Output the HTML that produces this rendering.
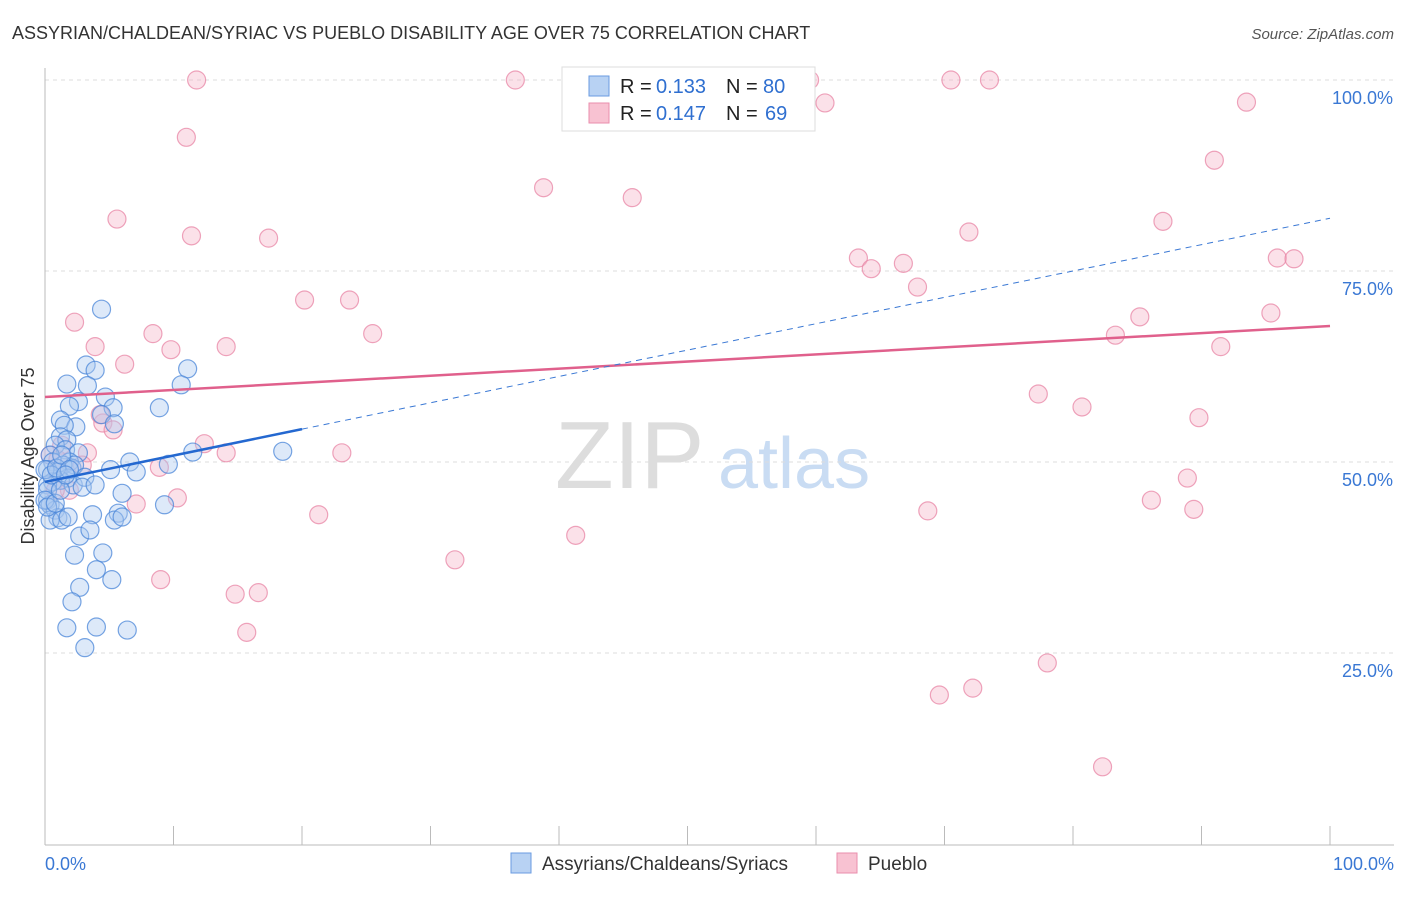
<!DOCTYPE html>
<html><head><meta charset="utf-8"><style>
body{margin:0;background:#fff;font-family:"Liberation Sans",sans-serif}
svg text{font-family:"Liberation Sans",sans-serif}
</style></head><body>
<svg width="1406" height="892" xmlns="http://www.w3.org/2000/svg">
<text x="12" y="39" font-size="18" fill="#333">ASSYRIAN/CHALDEAN/SYRIAC VS PUEBLO DISABILITY AGE OVER 75 CORRELATION CHART</text>
<text x="1394" y="39" font-size="15" fill="#555" text-anchor="end" font-style="italic">Source: ZipAtlas.com</text>
<g>
<text x="555" y="488" font-size="96" fill="#ddd" font-family="Liberation Serif">ZIP</text>
<text x="718" y="488" font-size="72" fill="#c9dcf3">atlas</text>
</g>
<g id="grid"></g>
<g id="axes"></g>
<g id="pts"></g>
<g id="trends"></g>
<g>
<rect x="562" y="67" width="253" height="64" fill="#fff" stroke="#ddd"/>
<rect x="589" y="76" width="20" height="20" fill="#b8d2f3" stroke="#6a9be0"/>
<rect x="589" y="103" width="20" height="20" fill="#f8c2d2" stroke="#ea8eac"/>
<text x="620" y="93" font-size="20" fill="#222">R =</text>
<text x="656" y="93" font-size="20" fill="#2f6fd0">0.133</text>
<text x="726" y="93" font-size="20" fill="#222">N =</text>
<text x="763" y="93" font-size="20" fill="#2f6fd0">80</text>
<text x="620" y="120" font-size="20" fill="#222">R =</text>
<text x="656" y="120" font-size="20" fill="#2f6fd0">0.147</text>
<text x="726" y="120" font-size="20" fill="#222">N =</text>
<text x="765" y="120" font-size="20" fill="#2f6fd0">69</text>
</g>
<g>
<rect x="511" y="853" width="20" height="20" fill="#b8d2f3" stroke="#6a9be0"/>
<text x="542" y="870" font-size="19" fill="#333">Assyrians/Chaldeans/Syriacs</text>
<rect x="837" y="853" width="20" height="20" fill="#f8c2d2" stroke="#ea8eac"/>
<text x="868" y="870" font-size="19" fill="#333">Pueblo</text>
</g>
<text transform="translate(34,456) rotate(-90)" font-size="18" fill="#333" text-anchor="middle">Disability Age Over 75</text>
<text x="45" y="870" font-size="18" fill="#3a78d4">0.0%</text>
<text x="1394" y="870" font-size="18" fill="#3a78d4" text-anchor="end">100.0%</text>
</svg>
<script>
const blueX=[4.4,3.2,3.9,1.7,3.3,11.1,10.6,4.7,2.6,1.9,8.9,5.3,4.4,1.2,2.4,1.5,5.4,1.2,1.7,0.8,1.6,2.6,0.4,0.6,1.9,2.1,1.4,2.3,6.6,5.1,7.1,9.6,11.5,18.5,0.2,1.0,1.8,1.2,0.6,0.2,2.2,3.1,2.9,6.0,0.2,0.4,0.8,1.0,0.4,1.3,3.7,1.8,5.7,5.4,6.0,9.3,2.7,3.5,2.3,4.5,4.0,5.2,2.7,2.1,1.7,4.0,6.4,3.1,0,0.2,0.5,0.9,1.3,1.9,0,0.2,0.8,1.2,1.6,3.9];
const blueY=[70.0,62.7,62.0,60.2,60.0,62.2,60.1,58.5,57.9,57.3,57.1,57.1,56.2,55.5,54.6,54.8,55.0,53.3,52.9,52.2,51.6,51.2,50.9,50.0,50.0,49.2,49.6,49.6,50.0,49.0,48.7,49.7,51.3,51.4,49.0,48.7,47.9,47.6,47.4,47.0,47.0,48.0,46.7,45.9,45.0,44.4,43.7,42.7,42.4,42.4,43.1,42.8,43.3,42.4,42.8,44.4,40.3,41.1,37.8,38.1,35.9,34.6,33.6,31.7,28.3,28.4,28.0,25.7,49.0,46.3,48.3,49.2,50.9,49.0,45.0,44.1,44.6,46.3,48.3,47.0];
const pinkX=[11.8,36.6,59.5,70.5,73.5,60.7,93.5,11.0,91.0,38.8,45.7,5.6,87.0,11.4,17.4,71.9,63.3,64.3,66.8,95.9,97.2,67.9,20.2,23.7,95.4,2.3,85.2,8.4,25.5,83.3,3.9,14.1,9.8,91.5,6.2,77.3,80.7,89.8,4.5,5.3,4.3,12.4,14.1,23.1,3.3,1.3,2.9,8.9,88.9,10.3,7.1,21.3,86.1,89.4,68.7,41.3,31.9,9.0,14.8,16.6,15.7,78.0,69.6,72.2,82.3,0.4,1.0,1.9,0.8];
const pinkY=[100,100,100,100,100,97.0,97.1,92.5,89.5,85.9,84.6,81.8,81.5,79.6,79.3,80.1,76.7,75.3,76.0,76.7,76.6,72.9,71.2,71.2,69.5,68.3,69.0,66.8,66.8,66.6,65.1,65.1,64.7,65.1,62.8,58.9,57.2,55.8,55.1,54.2,56.2,52.4,51.2,51.2,51.2,52.2,49.6,49.3,47.9,45.3,44.5,43.1,45.0,43.8,43.6,40.4,37.2,34.6,32.7,32.9,27.7,23.7,19.5,20.4,10.1,50.9,50.3,46.3,46.3];
const yTicks=[100,75,50,25];
const yTickLabels=["100.0%","75.0%","50.0%","25.0%"];
const xTicks=[0,10,20,30,40,50,60,70,80,90,100];
const pinkTrend=[58.5,67.8];
const blueTrend=[47.4,81.9];
const blueSolidEnd=20;
const NS='http://www.w3.org/2000/svg';
const sx=v=>45+v*12.85, sy=v=>844-v*7.64;
function mk(tag,parent,attrs){const e=document.createElementNS(NS,tag);for(const k in attrs)e.setAttribute(k,attrs[k]);document.getElementById(parent).appendChild(e);return e;}
yTicks.forEach((t,i)=>{
 const l=mk('line','grid',{x1:45,x2:1394,y1:sy(t),y2:sy(t),stroke:'#ddd','stroke-dasharray':'4,4'});
 
 
 const tx=mk('text','grid',{x:1393,y:sy(t)+24,'font-size':18,fill:'#3a78d4','text-anchor':'end'});
 tx.textContent=yTickLabels[i];
 
 
});
mk('line','axes',{x1:45,x2:45,y1:68,y2:845,stroke:'#bbb'});
mk('line','axes',{x1:45,x2:1394,y1:845,y2:845,stroke:'#bbb'});
xTicks.forEach(t=>{const l=mk('line','axes',{x1:sx(t),x2:sx(t),y1:826,y2:845,stroke:'#bbb'});
 
 });
function pts(X,Y,fill,stroke,name){X.forEach((x,i)=>{const c=mk('circle','pts',{cx:sx(x),cy:sy(Y[i]),r:9,fill:fill,'fill-opacity':0.4,stroke:stroke,'stroke-opacity':0.75,'stroke-width':1.2});
 
 });}
pts(pinkX,pinkY,'#f5b3c7','#e886a6','pueblo-point');
pts(blueX,blueY,'#a9c8f0','#4a86d8','assyrian-point');
const pl=mk('line','trends',{x1:sx(0),y1:sy(pinkTrend[0]),x2:sx(100),y2:sy(pinkTrend[1]),stroke:'#e0608c','stroke-width':2.5});


const bAt=x=>blueTrend[0]+(blueTrend[1]-blueTrend[0])*x/100;
const bd=mk('line','trends',{x1:sx(blueSolidEnd),y1:sy(bAt(blueSolidEnd)),x2:sx(100),y2:sy(bAt(100)),stroke:'#3a78d4','stroke-width':1,'stroke-dasharray':'6,5'});


const bs=mk('line','trends',{x1:sx(0),y1:sy(bAt(0)),x2:sx(blueSolidEnd),y2:sy(bAt(blueSolidEnd)),stroke:'#2468d0','stroke-width':2.5});


</script>
</body></html>
